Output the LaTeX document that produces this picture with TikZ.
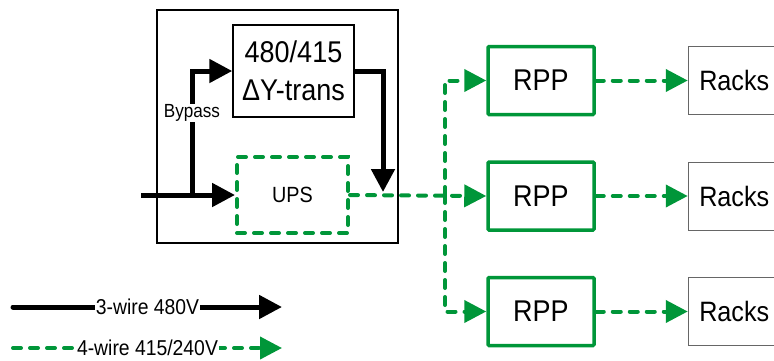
\documentclass[tikz,border=0pt]{standalone}
\usepackage{fontspec}
\setmainfont[FakeStretch=0.9]{Liberation Sans}
\usetikzlibrary{positioning, arrows.meta}
\definecolor{feedgreen}{RGB}{0,150,57}
\tikzset{cabinet/.style={
        draw,
        line width=1.2pt,
        minimum width=241pt,
        minimum height=233pt
}}
\tikzset{transbox/.style={
        draw,
        line width=1.5pt,
        inner sep=0pt,
        align=center,
        minimum width=121pt,
        minimum height=92pt,
        font=\fontsize{30}{38}\selectfont
}}
\tikzset{upsbox/.style={
        draw=feedgreen,
        line width=4pt,
        dash pattern=on 8pt off 9pt,
        line cap=round,
        minimum width=111pt,
        minimum height=76pt,
        font=\fontsize{22}{26}\selectfont
}}
\tikzset{rppbox/.style={
        draw=feedgreen,
        line width=3.5pt,
        rounded corners=1pt,
        minimum width=106pt,
        minimum height=68pt,
        font=\fontsize{30}{34}\selectfont
}}
\tikzset{rackbox/.style={
        draw=black!60,
        line width=1pt,
        minimum width=92pt,
        minimum height=68pt,
        font=\fontsize{28}{32}\selectfont
}}
\tikzset{power/.style={draw,line width=5pt,-{Triangle[length=23pt,width=23pt]}}}
\tikzset{feed/.style={draw=feedgreen,line width=4pt,dash pattern=on 8pt off 9pt,line cap=round,-{Triangle[length=22pt,width=22pt]}}}
\tikzset{tag/.style={fill=white, inner xsep=1pt, inner ysep=0pt}}

\begin{document}
\begin{tikzpicture}[x=1pt,y=-1pt]
\clip (0,0) rectangle (774,360);
\node[cabinet] (cab) at (277.5,126.5) {};
\node[transbox] (trans) at (293.5,71) {480/415\\ΔY-trans};
\node[upsbox] (ups) at (292.5,195) {UPS};
\node[rppbox] (rpp2) at (541,196) {RPP};
\node[rppbox, above=44pt of rpp2] (rpp1) {RPP};
\node[rppbox, below=44pt of rpp2] (rpp3) {RPP};
\node[rackbox, right=92pt of rpp1] (racks1) {Racks};
\node[rackbox, right=92pt of rpp2] (racks2) {Racks};
\node[rackbox, right=92pt of rpp3] (racks3) {Racks};

\coordinate (feedin) at (141,195);
\coordinate (tap) at (192,195);
\coordinate (drop) at (383,195);
\coordinate (bus) at (445,195);

\draw[feed] (ups.east) -- (rpp2.west);
\draw[feed] (bus) |- (rpp1.west);
\draw[feed] (bus) |- (rpp3.west);
\draw[feed] (rpp1) -- (racks1);
\draw[feed] (rpp2) -- (racks2);
\draw[feed] (rpp3) -- (racks3);

\draw[power] (feedin) -- (ups.west);
\draw[power] (tap) |- (trans.west);
\draw[power, shorten >=3pt] (trans.east) -| (drop);
\node[tag, font=\fontsize{19}{22}\selectfont] (bypass) at (192,113) {Bypass};

% legend
\coordinate (keyAa) at (13,307);
\coordinate (keyAb) at (282,307);
\coordinate (keyBa) at (13,348);
\coordinate (keyBb) at (282,348);
\draw[power, line cap=round] (keyAa) -- (keyAb)
    node[tag, pos=0.5, font=\fontsize{21.5}{25}\selectfont] (key3w) {3-wire 480V};
\draw[feed] (keyBa) -- (keyBb)
    node[tag, pos=0.5, font=\fontsize{21.5}{25}\selectfont] (key4w) {4-wire 415/240V};
\end{tikzpicture}
\end{document}
